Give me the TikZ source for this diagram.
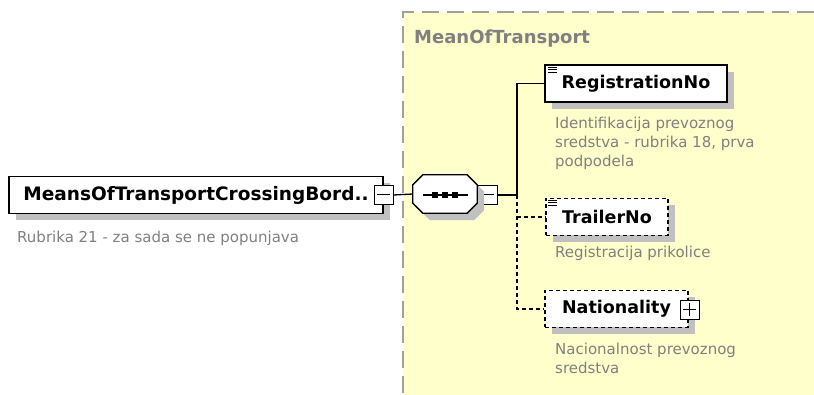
\documentclass[tikz,border=0pt]{standalone}
\usepackage{fontspec}
\setmainfont{DejaVu Sans}
\usetikzlibrary{shadows}
\pgfdeclarelayer{boxlayer}
\pgfdeclarelayer{edgelayer}
\pgfdeclarelayer{nodelayer}
\pgfsetlayers{boxlayer,edgelayer,nodelayer,main}
\definecolor{groupfill}{HTML}{FFFFCC}
\definecolor{groupline}{HTML}{A0A0A0}
\definecolor{shade}{HTML}{C0C0C0}
\definecolor{notegray}{HTML}{808080}
\tikzset{font=\fontsize{15}{19}\selectfont}
\tikzstyle{none}=[inner sep=0pt]
\tikzstyle{elem}=[draw,fill=white,line width=1.3pt,inner sep=0pt,minimum height=37pt,font=\fontsize{17.5}{19}\selectfont\bfseries,general shadow={fill=shade,shadow xshift=7pt,shadow yshift=-7pt}]
\tikzstyle{opt}=[elem,dash pattern=on 4pt off 3pt]
\tikzstyle{seqline}=[draw,fill=white,line width=1.3pt,general shadow={fill=shade,shadow xshift=7pt,shadow yshift=-7pt}]
\tikzstyle{minus}=[draw,fill=white,line width=1pt,minimum width=19pt,minimum height=19pt,inner sep=0pt,path picture={\draw[line width=1pt] ([xshift=3pt]path picture bounding box.west) -- ([xshift=-3pt]path picture bounding box.east);}]
\tikzstyle{plus}=[draw,fill=white,line width=1pt,minimum width=19pt,minimum height=19pt,inner sep=0pt,path picture={\draw[line width=1pt] ([xshift=3pt]path picture bounding box.west) -- ([xshift=-3pt]path picture bounding box.east) ([yshift=-3pt]path picture bounding box.north) -- ([yshift=3pt]path picture bounding box.south);}]
\tikzstyle{note}=[text=notegray,anchor=base west,inner sep=0pt,align=left]
\tikzstyle{grouplabel}=[note,font=\fontsize{18}{19}\selectfont\bfseries]
\tikzstyle{link}=[line width=1.3pt]
\tikzstyle{optlink}=[link,dash pattern=on 4pt off 3pt]

\begin{document}
\begin{tikzpicture}[x=1pt,y=-1pt]
	\useasboundingbox (0,0) rectangle (814,395);
	\begin{pgfonlayer}{boxlayer}
		\fill[groupfill] (403,12) rectangle (814,395);
		\draw[groupline,line width=1.3pt,dash pattern=on 17pt off 8pt] (814,12) -- (403,12) -- (403,395);
		\node [style=grouplabel] (grp) at (414,44) {MeanOfTransport};
	\end{pgfonlayer}
	\begin{pgfonlayer}{nodelayer}
		\node [style=elem,minimum width=374pt,font=\fontsize{18.5}{19}\selectfont\bfseries] (root) at (196,195) {MeansOfTransportCrossingBord..};
		\node [style=minus] (rootm) at (383.5,195) {};
		\node [style=note] (rootd) at (17,243) {Rubrika 21 - za sada se ne popunjava};
		\node [style=none,minimum width=64pt,minimum height=38pt] (seq) at (445,194) {};
		\node [style=minus] (seqm) at (487.5,195) {};
		\node [style=none] (fork) at (517,195) {};
		\node [style=elem,minimum width=182pt] (regno) at (636,83.5) {RegistrationNo};
		\node [style=note] (regnod) at (555,167) {Identifikacija prevoznog\\sredstva - rubrika 18, prva\\podpodela};
		\node [style=opt,minimum width=122pt] (trailer) at (607,217) {TrailerNo};
		\node [style=note] (trailerd) at (555,258) {Registracija prikolice};
		\node [style=opt,minimum width=143pt] (nation) at (616.5,309) {Nationality};
		\node [style=plus] (nationp) at (689.5,310) {};
		\node [style=note] (nationd) at (555,373) {Nacionalnost prevoznog\\sredstva};
		% sequence box
		\path[style=seqline] ([xshift=10pt]seq.north west) -- ([xshift=-10pt]seq.north east) -- ([yshift=-10pt]seq.north east) -- ([yshift=10pt]seq.south east) -- ([xshift=-10pt]seq.south east) -- ([xshift=10pt]seq.south west) -- ([yshift=10pt]seq.south west) -- ([yshift=-10pt]seq.north west) -- cycle;
		\draw[line width=1.2pt] (423,195) -- (468,195);
		\foreach \x in {435,445,455}
			\fill (\x-3,192) rectangle ++(6,6);
		% simple type marks
		\foreach \k in {0,2.5,5} {
			\draw[line width=0.8pt] (548,67+\k) -- (557,67+\k);
			\draw[line width=0.8pt] (548,200+\k) -- (557,200+\k);
		}
	\end{pgfonlayer}
	\begin{pgfonlayer}{edgelayer}
		\draw[style=link] (rootm.east) to (seq.west);
		\draw[style=link] (seqm.east) to (fork.center) |- (regno.west);
		\draw[style=optlink] (fork.center) |- (nation.west);
		\draw[style=optlink] (fork.center |- trailer.west) to (trailer.west);
	\end{pgfonlayer}
\end{tikzpicture}
\end{document}
